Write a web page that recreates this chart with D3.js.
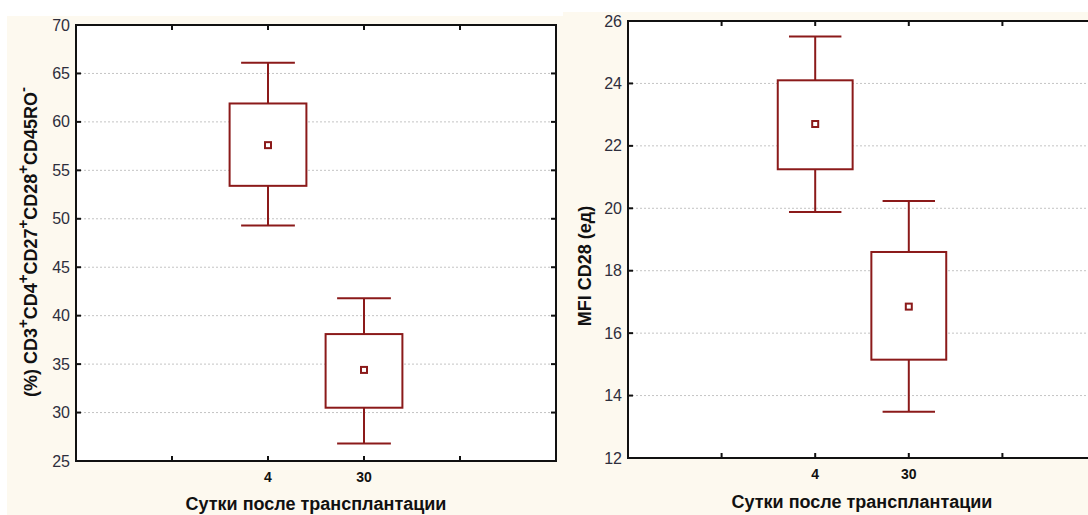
<!DOCTYPE html>
<html>
<head>
<meta charset="utf-8">
<script src="https://cdn.jsdelivr.net/npm/d3@7"></script>
<style>
  body { margin: 0; background: #fff; }
  svg { display: block; font-family: "Liberation Sans", Arial, sans-serif; }
</style>
</head>
<body>
<svg id="chart" width="1088" height="515"></svg>
<script>
// categories (days after transplantation)
var days = ["4", "30"];
var catPos = [2, 3];           // slot of each category on the x axis
var xTickPos = [1, 2, 3, 4];

// left panel: % CD3+CD4+CD27+CD28+CD45RO-
var cdMean     = [57.6, 34.4];
var cdBoxLo    = [53.4, 30.5];
var cdBoxHi    = [61.9, 38.1];
var cdWhiskLo  = [49.3, 26.8];
var cdWhiskHi  = [66.1, 41.8];
var cdTicks    = [25, 30, 35, 40, 45, 50, 55, 60, 65, 70];

// right panel: MFI CD28
var mfiMean    = [22.7, 16.85];
var mfiBoxLo   = [21.25, 15.15];
var mfiBoxHi   = [24.1, 18.6];
var mfiWhiskLo = [19.88, 13.48];
var mfiWhiskHi = [25.5, 20.23];
var mfiTicks   = [12, 14, 16, 18, 20, 22, 24, 26];

var svg = d3.select("#chart");
var boxColor = "#8b1a1a";
var cream = "#fdf9ef";

// panel backgrounds
svg.append("rect").attr("x", 7).attr("y", 16).attr("width", 556).attr("height", 499).attr("fill", cream);
svg.append("rect").attr("x", 563).attr("y", 12).attr("width", 525).attr("height", 503).attr("fill", cream);

function drawPanel(cfg) {
  var x = d3.scaleLinear().domain([0, 5]).range([cfg.left, cfg.right]);
  var y = d3.scaleLinear().domain(d3.extent(cfg.ticks)).range([cfg.bottom, cfg.top]);
  var g = svg.append("g");

  g.append("rect")
    .attr("x", cfg.left).attr("y", cfg.top)
    .attr("width", cfg.right - cfg.left).attr("height", cfg.bottom - cfg.top)
    .attr("fill", "#fff");

  // dotted grid
  g.selectAll(".grid").data(cfg.ticks.slice(1, -1)).enter().append("line")
    .attr("x1", cfg.left).attr("x2", cfg.right)
    .attr("y1", function(d) { return y(d); }).attr("y2", function(d) { return y(d); })
    .attr("stroke", "#c4c4c4").attr("stroke-width", 1).attr("stroke-dasharray", "2,2");

  // boxes
  var idx = d3.range(days.length);
  var bw = 0.4, cw = 0.28;
  var bx = g.selectAll(".box").data(idx).enter().append("g");
  bx.append("line")
    .attr("x1", function(i) { return x(catPos[i]); }).attr("x2", function(i) { return x(catPos[i]); })
    .attr("y1", function(i) { return y(cfg.whiskHi[i]); }).attr("y2", function(i) { return y(cfg.whiskLo[i]); })
    .attr("stroke", boxColor).attr("stroke-width", 2);
  bx.append("line")
    .attr("x1", function(i) { return x(catPos[i] - cw); }).attr("x2", function(i) { return x(catPos[i] + cw); })
    .attr("y1", function(i) { return y(cfg.whiskHi[i]); }).attr("y2", function(i) { return y(cfg.whiskHi[i]); })
    .attr("stroke", boxColor).attr("stroke-width", 2);
  bx.append("line")
    .attr("x1", function(i) { return x(catPos[i] - cw); }).attr("x2", function(i) { return x(catPos[i] + cw); })
    .attr("y1", function(i) { return y(cfg.whiskLo[i]); }).attr("y2", function(i) { return y(cfg.whiskLo[i]); })
    .attr("stroke", boxColor).attr("stroke-width", 2);
  bx.append("rect")
    .attr("x", function(i) { return x(catPos[i] - bw); })
    .attr("width", function(i) { return x(catPos[i] + bw) - x(catPos[i] - bw); })
    .attr("y", function(i) { return y(cfg.boxHi[i]); })
    .attr("height", function(i) { return y(cfg.boxLo[i]) - y(cfg.boxHi[i]); })
    .attr("fill", "#fff").attr("stroke", boxColor).attr("stroke-width", 2);
  bx.append("rect")
    .attr("x", function(i) { return x(catPos[i]) - 3; })
    .attr("y", function(i) { return y(cfg.mean[i]) - 3; })
    .attr("width", 6).attr("height", 6)
    .attr("fill", "#fff").attr("stroke", boxColor).attr("stroke-width", 2);

  // frame + inward ticks
  g.append("rect")
    .attr("x", cfg.left).attr("y", cfg.top)
    .attr("width", cfg.right - cfg.left).attr("height", cfg.bottom - cfg.top)
    .attr("fill", "none").attr("stroke", "#111").attr("stroke-width", 2);
  var inner = cfg.ticks.slice(1, -1);
  g.selectAll(".ytl").data(inner).enter().append("line")
    .attr("x1", cfg.left).attr("x2", cfg.left + 5)
    .attr("y1", function(d) { return y(d); }).attr("y2", function(d) { return y(d); })
    .attr("stroke", "#111").attr("stroke-width", 2);
  g.selectAll(".ytr").data(inner).enter().append("line")
    .attr("x1", cfg.right).attr("x2", cfg.right - 5)
    .attr("y1", function(d) { return y(d); }).attr("y2", function(d) { return y(d); })
    .attr("stroke", "#111").attr("stroke-width", 2);
  g.selectAll(".xtb").data(xTickPos).enter().append("line")
    .attr("x1", function(d) { return x(d); }).attr("x2", function(d) { return x(d); })
    .attr("y1", cfg.bottom).attr("y2", cfg.bottom - 5)
    .attr("stroke", "#111").attr("stroke-width", 2);
  g.selectAll(".xtt").data(xTickPos).enter().append("line")
    .attr("x1", function(d) { return x(d); }).attr("x2", function(d) { return x(d); })
    .attr("y1", cfg.top).attr("y2", cfg.top + 5)
    .attr("stroke", "#111").attr("stroke-width", 2);

  // y tick labels
  g.selectAll(".yl").data(cfg.ticks).enter().append("text")
    .attr("x", cfg.left - 6).attr("y", function(d) { return y(d); })
    .attr("dy", "0.35em").attr("text-anchor", "end")
    .attr("font-size", 16).attr("fill", "#2e2e3c")
    .text(function(d) { return d; });

  // x tick labels
  g.selectAll(".xl").data(idx).enter().append("text")
    .attr("x", function(i) { return x(catPos[i]); }).attr("y", cfg.bottom + 21)
    .attr("text-anchor", "middle").attr("font-size", 14).attr("font-weight", "bold")
    .attr("fill", "#111")
    .text(function(i) { return days[i]; });

  g.append("text")
    .attr("x", (cfg.left + cfg.right) / 2).attr("y", Math.min(cfg.bottom + 50, 510))
    .attr("text-anchor", "middle").attr("font-size", 18).attr("font-weight", "bold")
    .attr("fill", "#111")
    .text("Сутки после трансплантации");

  // y title, pieces with superscripts
  var t = g.append("text")
    .attr("transform", "translate(" + cfg.titleX + "," + cfg.titleY + ") rotate(-90)")
    .attr("text-anchor", "middle").attr("font-size", 18).attr("font-weight", "bold")
    .attr("fill", "#111");
  var raised = false;
  cfg.title.forEach(function(p) {
    if (p.sup) {
      t.append("tspan").attr("dy", -9).attr("font-size", 15).text(p.sup);
      raised = true;
    } else {
      t.append("tspan").attr("dy", raised ? 9 : 0).text(p.txt);
      raised = false;
    }
  });
}

drawPanel({
  left: 76, right: 556, top: 25, bottom: 461,
  ticks: cdTicks, mean: cdMean, boxLo: cdBoxLo, boxHi: cdBoxHi,
  whiskLo: cdWhiskLo, whiskHi: cdWhiskHi,
  titleX: 37, titleY: 242,
  title: [{txt: "(%) CD3"}, {sup: "+"}, {txt: "CD4"}, {sup: "+"}, {txt: "CD27"}, {sup: "+"},
          {txt: "CD28"}, {sup: "+"}, {txt: "CD45RO"}, {sup: "-"}]
});

drawPanel({
  left: 628, right: 1096, top: 21, bottom: 458,
  ticks: mfiTicks, mean: mfiMean, boxLo: mfiBoxLo, boxHi: mfiBoxHi,
  whiskLo: mfiWhiskLo, whiskHi: mfiWhiskHi,
  titleX: 591, titleY: 266,
  title: [{txt: "MFI CD28 (ед)"}]
});
</script>
</body>
</html>
